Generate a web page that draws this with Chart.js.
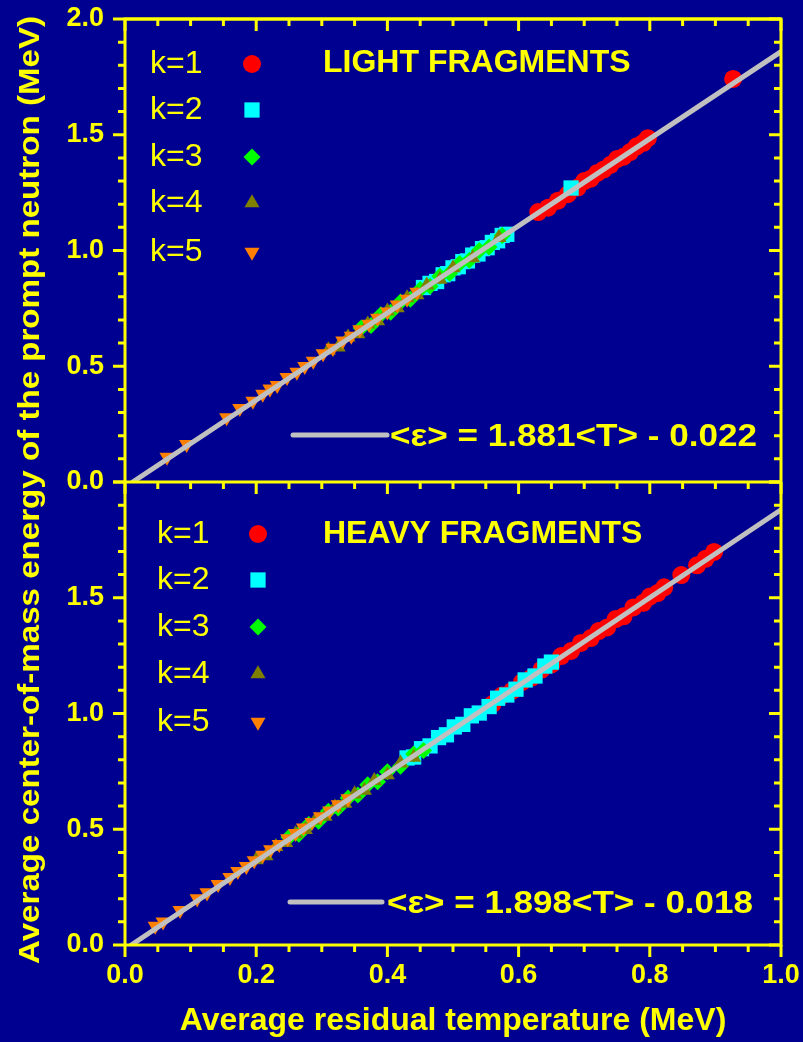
<!DOCTYPE html>
<html>
<head>
<meta charset="utf-8">
<title>Prompt neutron energy vs residual temperature</title>
<script src="https://cdn.jsdelivr.net/npm/chart.js@4.4.0/dist/chart.umd.min.js"></script>
<style>
  html, body { margin: 0; padding: 0; background: #000090; }
  canvas { display: block; }
</style>
</head>
<body>
<canvas id="chart" width="803" height="1042"></canvas>
<script>
// tick labels
const xTickValues = [0.0, 0.2, 0.4, 0.6, 0.8, 1.0];
const yTopTickValues = [0.0, 0.5, 1.0, 1.5, 2.0];
const yBotTickValues = [0.0, 0.5, 1.0, 1.5];

const seriesLabels = ["k=1", "k=2", "k=3", "k=4", "k=5"];
const panelTitles = ["LIGHT FRAGMENTS", "HEAVY FRAGMENTS"];
const fitLabels = ["<\u03b5> = 1.881<T> - 0.022", "<\u03b5> = 1.898<T> - 0.018"];

// light fragments (top panel)
const lightK1X = [0.630, 0.645, 0.660, 0.675, 0.690, 0.700, 0.710, 0.720, 0.730, 0.740, 0.750, 0.760, 0.770, 0.780, 0.790, 0.797, 0.927];
const lightK1Y = [1.166, 1.185, 1.215, 1.243, 1.272, 1.300, 1.310, 1.335, 1.350, 1.370, 1.395, 1.405, 1.425, 1.450, 1.465, 1.485, 1.741];
const lightK2X = [0.455, 0.465, 0.475, 0.485, 0.492, 0.500, 0.508, 0.515, 0.522, 0.530, 0.538, 0.545, 0.552, 0.560, 0.568, 0.575, 0.582, 0.680];
const lightK2Y = [0.840, 0.858, 0.866, 0.895, 0.900, 0.925, 0.930, 0.952, 0.955, 0.980, 0.985, 1.008, 1.012, 1.035, 1.042, 1.065, 1.070, 1.270];
const lightK3X = [0.360, 0.375, 0.390, 0.405, 0.420, 0.435, 0.450, 0.465, 0.480, 0.495, 0.510, 0.525, 0.540, 0.555, 0.575];
const lightK3Y = [0.665, 0.676, 0.722, 0.733, 0.778, 0.789, 0.832, 0.846, 0.889, 0.902, 0.944, 0.958, 1.000, 1.015, 1.065];
const lightK4X = [0.310, 0.325, 0.340, 0.355, 0.370, 0.385, 0.400, 0.415, 0.430, 0.445, 0.460, 0.480, 0.500, 0.530, 0.570];
const lightK4Y = [0.570, 0.582, 0.626, 0.640, 0.682, 0.696, 0.738, 0.752, 0.795, 0.808, 0.850, 0.875, 0.925, 0.968, 1.056];
const lightK5X = [0.064, 0.094, 0.155, 0.175, 0.195, 0.210, 0.221, 0.232, 0.247, 0.262, 0.274, 0.287, 0.302, 0.317, 0.332, 0.345, 0.358, 0.372, 0.385, 0.400, 0.415, 0.430, 0.445];
const lightK5Y = [0.108, 0.163, 0.278, 0.318, 0.350, 0.380, 0.402, 0.418, 0.452, 0.475, 0.500, 0.522, 0.555, 0.578, 0.610, 0.630, 0.658, 0.682, 0.708, 0.735, 0.765, 0.790, 0.820];
const lightFitX = [0.0117, 1.0];
const lightFitY = [0.0, 1.859];

// heavy fragments (bottom panel)
const heavyK1X = [0.560, 0.575, 0.590, 0.605, 0.620, 0.635, 0.650, 0.665, 0.680, 0.695, 0.710, 0.722, 0.735, 0.748, 0.760, 0.775, 0.790, 0.800, 0.812, 0.822, 0.848, 0.872, 0.885, 0.898];
const heavyK1Y = [1.040, 1.078, 1.098, 1.135, 1.155, 1.190, 1.212, 1.248, 1.270, 1.305, 1.326, 1.356, 1.372, 1.408, 1.420, 1.458, 1.478, 1.505, 1.520, 1.545, 1.598, 1.640, 1.668, 1.698];
const heavyK2X = [0.430, 0.440, 0.452, 0.465, 0.478, 0.490, 0.502, 0.515, 0.528, 0.540, 0.555, 0.568, 0.582, 0.596, 0.610, 0.625, 0.640, 0.650];
const heavyK2Y = [0.808, 0.812, 0.848, 0.860, 0.896, 0.908, 0.942, 0.953, 0.990, 1.002, 1.030, 1.066, 1.080, 1.105, 1.145, 1.162, 1.205, 1.222];
const heavyK3X = [0.250, 0.265, 0.280, 0.295, 0.310, 0.325, 0.340, 0.355, 0.370, 0.385, 0.400, 0.420, 0.440, 0.455];
const heavyK3Y = [0.465, 0.478, 0.520, 0.535, 0.578, 0.592, 0.635, 0.648, 0.692, 0.705, 0.748, 0.772, 0.825, 0.840];
const heavyK4X = [0.200, 0.215, 0.230, 0.245, 0.260, 0.275, 0.290, 0.305, 0.320, 0.335, 0.350, 0.365, 0.380, 0.400, 0.420, 0.440];
const heavyK4Y = [0.368, 0.385, 0.425, 0.442, 0.480, 0.498, 0.538, 0.555, 0.595, 0.612, 0.652, 0.668, 0.710, 0.735, 0.785, 0.810];
const heavyK5X = [0.046, 0.058, 0.084, 0.110, 0.125, 0.142, 0.160, 0.172, 0.185, 0.197, 0.210, 0.222, 0.235, 0.248, 0.260, 0.272, 0.285, 0.298, 0.312, 0.325, 0.340];
const heavyK5Y = [0.082, 0.100, 0.150, 0.200, 0.226, 0.262, 0.292, 0.318, 0.340, 0.365, 0.388, 0.412, 0.435, 0.460, 0.482, 0.506, 0.530, 0.555, 0.580, 0.606, 0.632];
const heavyFitX = [0.0095, 1.0];
const heavyFitY = [0.0, 1.880];

const BG = "#000090";
const YELLOW = "#ffff00";
const FIT_COLOR = "#c0c0c0";
const FONT = "'Liberation Sans', Arial, sans-serif";

// marker look per k
const markers = [
    { color: "#ff0000", style: "circle", radius: 9, rotation: 0 },
    { color: "#00ffff", style: "rect", radius: 10.8, rotation: 0 },
    { color: "#00ff00", style: "rectRot", radius: 8.5, rotation: 0 },
    { color: "#808000", style: "triangle", radius: 8.7, rotation: 0 },
    { color: "#ff8000", style: "triangle", radius: 8.7, rotation: 180 }
];

function pts(xs, ys) {
    return xs.map((x, i) => ({ x: x, y: ys[i] }));
}

function scatterSets(panel, axisId) {
    return panel.map((s, i) => ({
        type: "scatter",
        label: seriesLabels[i],
        data: pts(s[0], s[1]),
        yAxisID: axisId,
        backgroundColor: markers[i].color,
        borderWidth: 0,
        pointStyle: markers[i].style,
        pointRadius: markers[i].radius,
        pointRotation: markers[i].rotation,
        order: 10 - i
    }));
}

function fitSet(xs, ys, axisId) {
    return {
        type: "line",
        data: pts(xs, ys),
        yAxisID: axisId,
        borderColor: FIT_COLOR,
        borderWidth: 5,
        borderCapStyle: "round",
        pointRadius: 0,
        fill: false,
        order: 0
    };
}

const lightSeries = [[lightK1X, lightK1Y], [lightK2X, lightK2Y], [lightK3X, lightK3Y], [lightK4X, lightK4Y], [lightK5X, lightK5Y]];
const heavySeries = [[heavyK1X, heavyK1Y], [heavyK2X, heavyK2Y], [heavyK3X, heavyK3Y], [heavyK4X, heavyK4Y], [heavyK5X, heavyK5Y]];

function drawMarker(ctx, m, x, y) {
    const r = m.radius;
    ctx.fillStyle = m.color;
    ctx.beginPath();
    if (m.style === "circle") {
        ctx.arc(x, y, r, 0, Math.PI * 2);
    } else if (m.style === "rect") {
        const s = r * Math.SQRT1_2;
        ctx.rect(x - s, y - s, 2 * s, 2 * s);
    } else if (m.style === "rectRot") {
        ctx.moveTo(x, y - r);
        ctx.lineTo(x + r, y);
        ctx.lineTo(x, y + r);
        ctx.lineTo(x - r, y);
        ctx.closePath();
    } else {
        const d = m.rotation === 180 ? -1 : 1;
        const hw = r * Math.sin(Math.PI / 3);
        ctx.moveTo(x, y - d * r);
        ctx.lineTo(x + hw, y + d * r / 2);
        ctx.lineTo(x - hw, y + d * r / 2);
        ctx.closePath();
    }
    ctx.fill();
}

// draw text squeezed/stretched to a given width
function fitText(ctx, text, x, y, width) {
    const w = ctx.measureText(text).width;
    ctx.save();
    ctx.translate(x, y);
    ctx.scale(width / w, 1);
    ctx.fillText(text, 0, 0);
    ctx.restore();
}

// legend / label placement per panel (pixels from the panel top)
const panelLayout = [
    { axis: "yTop", textX: 150, markX: 252, rows: [45, 91, 138, 184, 233], titleX: 323, titleY: 44,
      fitX1: 293, fitX2: 387, fitY: 416, fitTextX: 390, fitTextW: 367 },
    { axis: "yBot", textX: 157, markX: 258, rows: [52, 98, 145, 192, 240], titleX: 323, titleY: 52,
      fitX1: 290, fitX2: 382, fitY: 420, fitTextX: 387, fitTextW: 366 }
];

const framePlugin = {
    id: "framePlugin",
    beforeDraw(chart) {
        const ctx = chart.ctx;
        ctx.save();
        ctx.fillStyle = BG;
        ctx.fillRect(0, 0, chart.width, chart.height);
        ctx.restore();
    },
    afterDatasetsDraw(chart) {
        const ctx = chart.ctx;
        const xs = chart.scales.x;
        const a = chart.chartArea;
        ctx.save();
        ctx.strokeStyle = YELLOW;
        ctx.lineWidth = 3;
        ctx.lineCap = "butt";
        // frame
        ctx.strokeRect(a.left, a.top, a.right - a.left, a.bottom - a.top);
        ["yTop", "yBot"].forEach(id => {
            const ys = chart.scales[id];
            ctx.beginPath();
            ctx.moveTo(a.left, ys.top);
            ctx.lineTo(a.right, ys.top);
            ctx.stroke();
            // y ticks: left outward, right inward
            for (let i = 0; i <= 20; i++) {
                const py = ys.getPixelForValue(i / 10);
                const len = i % 5 === 0 ? 12 : 7;
                ctx.beginPath();
                ctx.moveTo(a.left, py);
                ctx.lineTo(a.left - len, py);
                ctx.moveTo(a.right, py);
                ctx.lineTo(a.right - len, py);
                ctx.stroke();
            }
            // x ticks along panel top, inward
            for (let i = 0; i <= 20; i++) {
                const px = xs.getPixelForValue(i / 20);
                const len = i % 4 === 0 ? 12 : 7;
                ctx.beginPath();
                ctx.moveTo(px, ys.top);
                ctx.lineTo(px, ys.top + len);
                ctx.stroke();
            }
        });
        // bottom x ticks, outward
        for (let i = 0; i <= 20; i++) {
            const px = xs.getPixelForValue(i / 20);
            const len = i % 4 === 0 ? 12 : 7;
            ctx.beginPath();
            ctx.moveTo(px, a.bottom);
            ctx.lineTo(px, a.bottom + len);
            ctx.stroke();
        }
        ctx.restore();
    },
    afterDraw(chart) {
        const ctx = chart.ctx;
        ctx.save();
        ctx.fillStyle = YELLOW;
        ctx.textBaseline = "middle";
        panelLayout.forEach((p, n) => {
            const top = chart.scales[p.axis].top;
            ctx.font = "32px " + FONT;
            ctx.textAlign = "left";
            seriesLabels.forEach((lab, i) => {
                ctx.fillStyle = YELLOW;
                ctx.fillText(lab, p.textX, top + p.rows[i]);
                drawMarker(ctx, markers[i], p.markX, top + p.rows[i]);
            });
            ctx.fillStyle = YELLOW;
            ctx.font = "bold 32px " + FONT;
            ctx.fillText(panelTitles[n], p.titleX, top + p.titleY);
            // fit legend
            ctx.strokeStyle = FIT_COLOR;
            ctx.lineWidth = 5;
            ctx.lineCap = "round";
            ctx.beginPath();
            ctx.moveTo(p.fitX1, top + p.fitY);
            ctx.lineTo(p.fitX2, top + p.fitY);
            ctx.stroke();
            ctx.font = "bold 32px " + FONT;
            fitText(ctx, fitLabels[n], p.fitTextX, top + p.fitY + 2, p.fitTextW);
        });
        // y axis title, rotated
        ctx.font = "bold 30px " + FONT;
        ctx.textAlign = "left";
        ctx.translate(31, 490);
        ctx.rotate(-Math.PI / 2);
        const title = "Average center-of-mass energy of the prompt neutron (MeV)";
        fitText(ctx, title, -474, 0, 948);
        ctx.restore();
    }
};

const tickFont = { family: FONT, size: 27, weight: "bold" };

function yAxis(tickValues) {
    return {
        type: "linear",
        axis: "y",
        position: "left",
        stack: "panels",
        stackWeight: 1,
        min: 0,
        max: 2,
        grid: { display: false, drawTicks: false },
        border: { display: false },
        ticks: {
            color: YELLOW,
            font: tickFont,
            padding: 21,
            callback: v => v.toFixed(1)
        },
        afterBuildTicks: s => { s.ticks = tickValues.map(v => ({ value: v })); },
        afterFit: s => { s.width = 125; s.paddingTop = 0; s.paddingBottom = 0; }
    };
}

new Chart(document.getElementById("chart"), {
    type: "scatter",
    data: {
        datasets: [
            fitSet(lightFitX, lightFitY, "yTop"),
            fitSet(heavyFitX, heavyFitY, "yBot"),
            ...scatterSets(lightSeries, "yTop"),
            ...scatterSets(heavySeries, "yBot")
        ]
    },
    options: {
        responsive: false,
        animation: false,
        layout: { padding: { top: 19, right: 22, left: 0, bottom: 0 } },
        plugins: {
            legend: { display: false },
            tooltip: { enabled: false }
        },
        scales: {
            x: {
                type: "linear",
                min: 0,
                max: 1,
                grid: { display: false, drawTicks: false },
                border: { display: false },
                ticks: {
                    color: YELLOW,
                    font: tickFont,
                    padding: 14,
                    maxRotation: 0,
                    callback: v => v.toFixed(1)
                },
                afterBuildTicks: s => { s.ticks = xTickValues.map(v => ({ value: v })); },
                afterFit: s => { s.height = 97; s.paddingLeft = 0; s.paddingRight = 0; },
                title: {
                    display: true,
                    text: "Average residual temperature (MeV)",
                    color: YELLOW,
                    font: { family: FONT, size: 32, weight: "bold" },
                    padding: { top: 0, bottom: 2 }
                }
            },
            // bottom panel axis listed first so the stack puts it below
            yBot: yAxis(yBotTickValues),
            yTop: yAxis(yTopTickValues)
        }
    },
    plugins: [framePlugin]
});
</script>
</body>
</html>
